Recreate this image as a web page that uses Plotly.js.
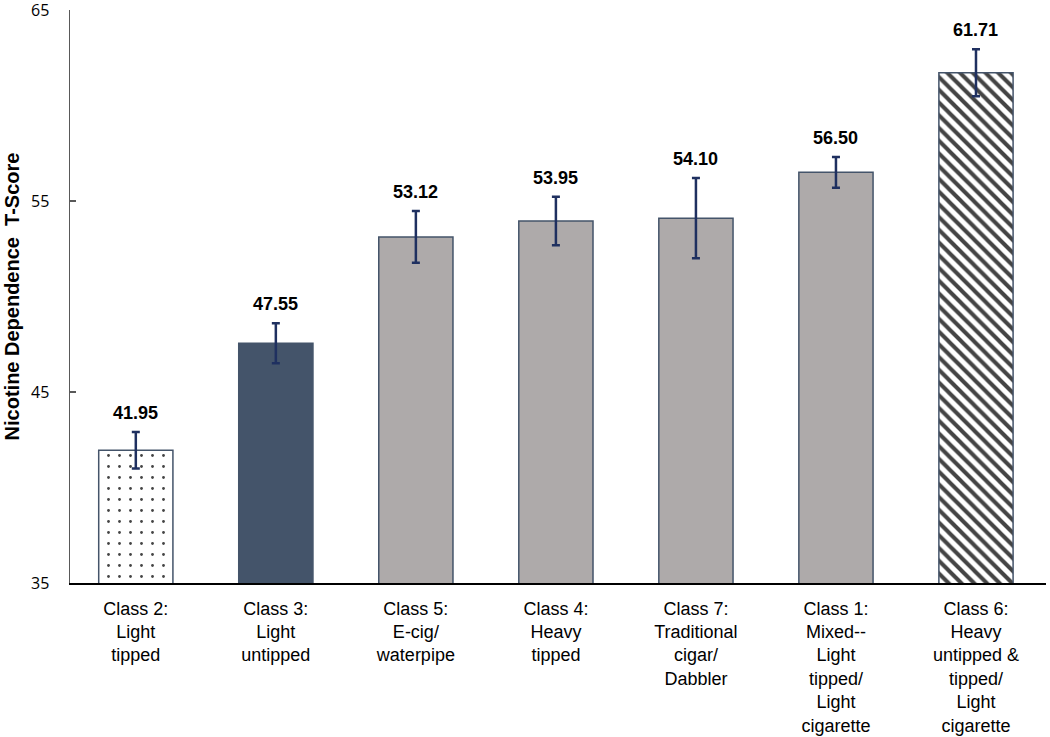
<!DOCTYPE html>
<html>
<head>
<meta charset="utf-8">
<script src="https://cdn.plot.ly/plotly-3.0.1.min.js"></script>
<style>html,body{margin:0;padding:0;background:#fff;}#chart{width:1050px;height:737px;}</style>
</head>
<body>
<div id="chart"></div>
<script>
const categories = [
  "Class 2:<br>Light<br>tipped",
  "Class 3:<br>Light<br>untipped",
  "Class 5:<br>E-cig/<br>waterpipe",
  "Class 4:<br>Heavy<br>tipped",
  "Class 7:<br>Traditional<br>cigar/<br>Dabbler",
  "Class 1:<br>Mixed--<br>Light<br>tipped/<br>Light<br>cigarette",
  "Class 6:<br>Heavy<br>untipped &<br>tipped/<br>Light<br>cigarette"
];
const values = [41.95, 47.55, 53.12, 53.95, 54.10, 56.50, 61.71];
const errors = [0.95, 1.05, 1.35, 1.27, 2.1, 0.8, 1.23];
const fillColors = ["#ffffff", "#44546a", "#aeaaaa", "#aeaaaa", "#aeaaaa", "#aeaaaa", "#ffffff"];
const patternShapes = [".", "", "", "", "", "", "\\"];
const patternColors = ["#000000", "#44546a", "#44546a", "#44546a", "#44546a", "#44546a", "#34435f"];
const yTicks = [35, 45, 55, 65];

const font = "Liberation Sans, Arial, sans-serif";
const tickFont = "Open Sans, Liberation Sans, sans-serif";

const trace = {
  type: "bar",
  x: categories,
  y: values,
  width: 0.53,
  marker: {
    color: fillColors,
    line: {color: "#44546a", width: 1.5},
    pattern: {
      shape: patternShapes,
      fgcolor: patternColors,
      fgopacity: 1,
      size: [11, 10, 10, 10, 10, 10, 9],
      solidity: [0.05, 0.3, 0.3, 0.3, 0.3, 0.3, 0.45],
      fillmode: "overlay"
    }
  },
  error_y: {
    type: "data",
    array: errors,
    visible: true,
    color: "#1f3060",
    thickness: 2.5,
    width: 4
  },
  hoverinfo: "skip"
};

const annotations = values.map((v, i) => ({
  x: categories[i],
  y: v + errors[i],
  xref: "x", yref: "y",
  text: "<b>" + v.toFixed(2) + "</b>",
  showarrow: false,
  yanchor: "bottom",
  yshift: 7,
  font: {family: font, size: 18, color: "#000"}
}));

const layout = {
  width: 1050, height: 737,
  margin: {l: 70, r: 4, t: 10, b: 154},
  paper_bgcolor: "#fff",
  plot_bgcolor: "#fff",
  showlegend: false,
  xaxis: {
    type: "category",
    range: [-0.47, 6.5],
    showline: true,
    linecolor: "#000",
    linewidth: 2,
    ticks: "",
    showgrid: false,
    zeroline: false,
    ticklabelstandoff: 8,
    tickfont: {family: font, size: 18, color: "#000"},
    fixedrange: true
  },
  yaxis: {
    range: [35, 65],
    tickvals: yTicks,
    ticktext: yTicks.map(String),
    showline: true,
    linecolor: "#595959",
    linewidth: 1.5,
    ticks: "inside",
    ticklen: 6,
    tickcolor: "#595959",
    tickwidth: 1.5,
    ticklabelstandoff: 16,
    ticklabeloverflow: "allow",
    showgrid: false,
    zeroline: false,
    tickfont: {family: tickFont, size: 16, color: "#000"},
    title: {
      text: "<b>Nicotine Dependence  T-Score</b>",
      font: {family: font, size: 20, color: "#000"},
      standoff: 6
    },
    fixedrange: true
  },
  annotations: annotations
};

Plotly.newPlot("chart", [trace], layout, {displayModeBar: false, staticPlot: true});
</script>
</body>
</html>
